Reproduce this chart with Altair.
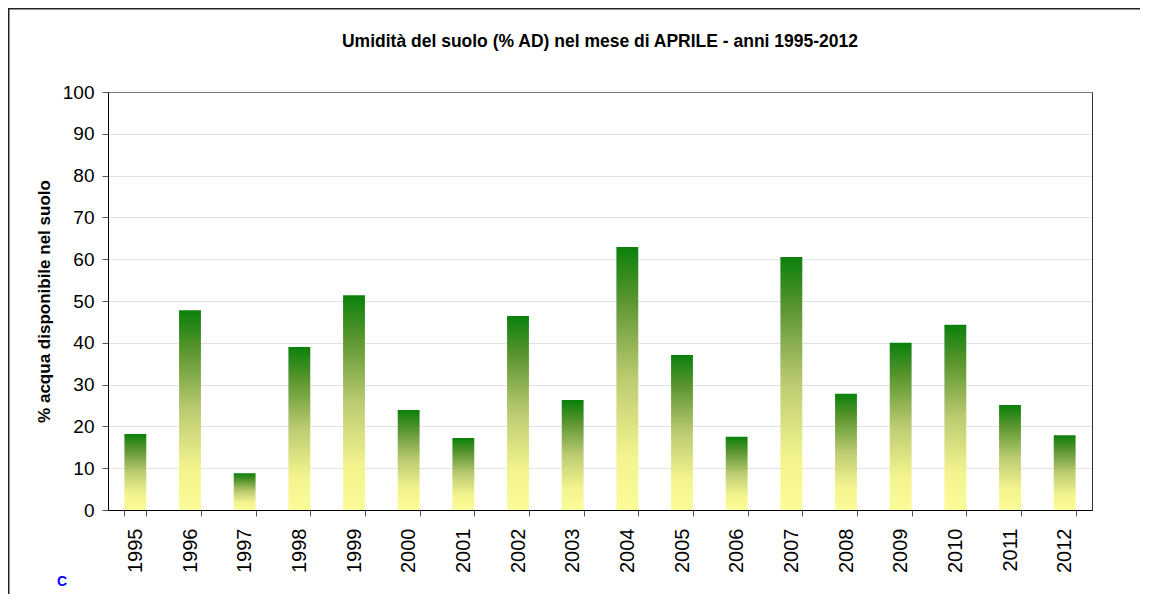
import altair as alt
import pandas as pd

years = [str(y) for y in range(1995, 2013)]
values = [18.2, 47.8, 8.8, 39.0, 51.4, 23.9, 17.2, 46.4, 26.3, 62.9,
          37.1, 17.5, 60.5, 27.8, 40.0, 44.3, 25.1, 17.9]
y_ticks = list(range(0, 101, 10))

title_text = ["Umidità del suolo (% AD) nel mese di APRILE - anni 1995-2012"]
y_title = "% acqua disponibile nel suolo"
note_text = ["C"]

df = pd.DataFrame({"anno": years, "valore": values})

W, H = 984, 418
FONT = "Liberation Sans"
PAD_R, PAD_B = 48, 84

gradient = alt.Gradient(
    gradient="linear", x1=0, y1=1, x2=0, y2=0,
    stops=[
        alt.GradientStop(offset=0, color="#fbfb98"),
        alt.GradientStop(offset=0.2, color="#f4f48e"),
        alt.GradientStop(offset=0.5, color="#bccb72"),
        alt.GradientStop(offset=0.8, color="#5a952f"),
        alt.GradientStop(offset=1, color="#0a800a"),
    ],
)

x_enc = alt.X(
    "anno:N", sort=years,
    scale=alt.Scale(paddingInner=0.6, paddingOuter=0.3),
    axis=alt.Axis(
        title=None, labelAngle=270, labelFontSize=20, labelFont=FONT,
        labelColor="black", tickBand="extent", tickSize=6, tickColor="#555555",
        domainColor="black", labelPadding=12, grid=False,
    ),
)
y_enc = alt.Y(
    "valore:Q",
    scale=alt.Scale(domain=[0, 100], nice=False),
    axis=alt.Axis(
        values=y_ticks, title=y_title, titleFontSize=17, titleFont=FONT,
        titleFontWeight="bold", titleColor="black", titlePadding=9,
        labelFontSize=19, labelFont=FONT, labelColor="black", labelPadding=8,
        grid=True, gridColor="#c4c4c4", gridDash=[1, 1], tickSize=6,
        tickColor="#555555", domainColor="black",
    ),
)

bars = alt.Chart(df).mark_bar(color=gradient).encode(x=x_enc, y=y_enc)

one = pd.DataFrame({"k": [0]})
frame_top = alt.Chart(one).mark_rect(color="#222222", strokeWidth=0).encode(
    x=alt.value(-100), x2=alt.value(W + PAD_R), y=alt.value(-84), y2=alt.value(-82.5)
)
frame_left = alt.Chart(one).mark_rect(color="#222222", strokeWidth=0).encode(
    x=alt.value(-100), x2=alt.value(-98.5), y=alt.value(-84), y2=alt.value(H + PAD_B)
)

title = alt.Chart(pd.DataFrame({"t": title_text})).mark_text(
    color="black", fontWeight="bold", fontSize=17.5, font=FONT, baseline="middle"
).encode(text="t:N", x=alt.value(W / 2), y=alt.value(-50))

note = alt.Chart(pd.DataFrame({"t": note_text})).mark_text(
    color="#0000ff", fontWeight="bold", fontSize=14, font=FONT, baseline="middle"
).encode(text="t:N", x=alt.value(-46), y=alt.value(490))

chart = alt.layer(frame_top, frame_left, bars, title, note).properties(
    width=W, height=H,
    autosize=alt.AutoSizeParams(type="none"),
    padding={"left": 100, "top": 84, "right": PAD_R, "bottom": PAD_B},
).configure_view(stroke="#333333", strokeWidth=1)

chart.save("out.html", embed_options={"renderer": "svg", "actions": False})
